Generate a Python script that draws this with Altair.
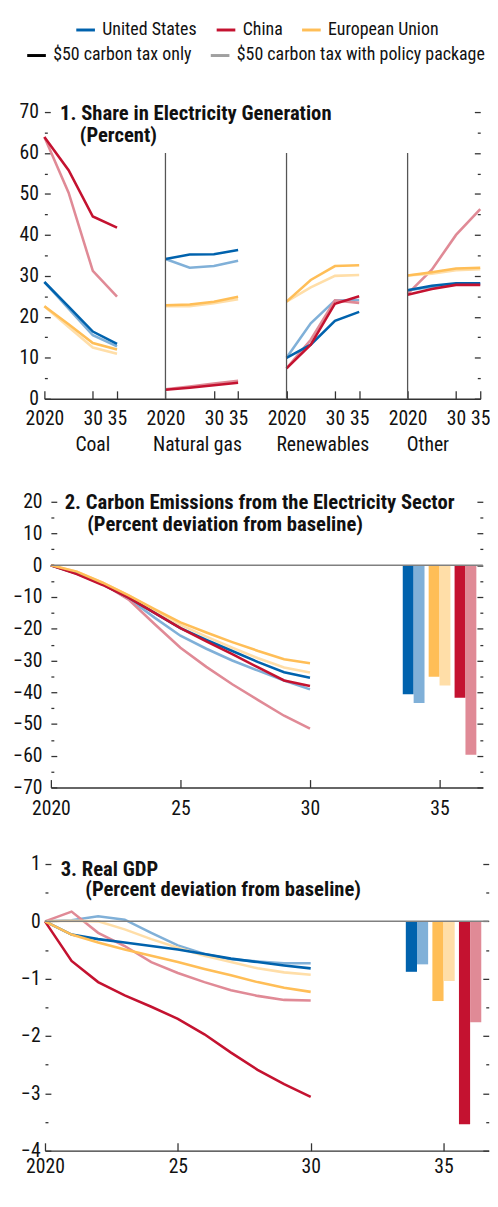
import altair as alt
import pandas as pd

FONT = "Liberation Sans Narrow, Arial Narrow, Roboto Condensed, DejaVu Sans Condensed, sans-serif"

# ---------------- data ----------------
COUNTRIES = ["United States", "China", "European Union"]
SCENARIOS = ["$50 carbon tax only", "$50 carbon tax with policy package"]
DARK = {"United States": "#0062AD", "China": "#C41230", "European Union": "#FFBE57"}
LIGHT = {"United States": "#80B0D8", "China": "#E08A96", "European Union": "#FFDEA8"}
SCEN_COLORS = ["#000000", "#A0A0A0"]

# Panel 1: share in electricity generation (percent), years 2020, 2025, 2030, 2035
SOURCES = ["Coal", "Natural gas", "Renewables", "Other"]
SHARE_YEARS = [2020, 2025, 2030, 2035]
share_us_tax = {"Coal": [28.5, 22.5, 16.4, 13.4], "Natural gas": [34.1, 35.2, 35.3, 36.3],
                "Renewables": [10.0, 13.2, 19.0, 21.2], "Other": [26.5, 27.6, 28.2, 28.2]}
share_us_pkg = {"Coal": [28.5, 22.0, 15.5, 12.8], "Natural gas": [34.1, 32.0, 32.4, 33.7],
                "Renewables": [10.0, 18.4, 24.0, 24.1], "Other": [26.5, 27.3, 28.0, 27.9]}
share_cn_tax = {"Coal": [63.9, 55.8, 44.5, 41.8], "Natural gas": [2.2, 2.7, 3.3, 3.9],
                "Renewables": [7.4, 13.2, 23.2, 25.0], "Other": [25.4, 26.8, 27.8, 27.8]}
share_cn_pkg = {"Coal": [63.9, 50.3, 31.2, 24.9], "Natural gas": [2.3, 3.0, 3.7, 4.4],
                "Renewables": [7.4, 14.4, 24.0, 23.4], "Other": [25.6, 31.5, 40.0, 46.3]}
share_eu_tax = {"Coal": [22.6, 18.2, 13.6, 12.0], "Natural gas": [22.8, 23.0, 23.7, 24.9],
                "Renewables": [23.7, 29.0, 32.4, 32.6], "Other": [30.1, 30.9, 31.8, 32.0]}
share_eu_pkg = {"Coal": [22.6, 17.5, 12.5, 11.0], "Natural gas": [22.6, 22.6, 23.3, 24.3],
                "Renewables": [23.7, 27.2, 30.0, 30.2], "Other": [30.1, 30.5, 31.4, 31.6]}

# Panel 2: carbon emissions from electricity (percent deviation from baseline)
YEARS = list(range(2020, 2031))
em_us_tax = [0, -2.6, -6.0, -10.2, -15.0, -19.8, -23.5, -27.0, -30.5, -33.7, -35.4]
em_us_pkg = [0, -2.4, -5.8, -10.5, -16.5, -22.2, -26.3, -30.0, -33.2, -36.3, -39.1]
em_cn_tax = [0, -2.8, -6.2, -10.2, -15.0, -19.8, -24.0, -28.0, -32.2, -36.3, -38.0]
em_cn_pkg = [0, -2.5, -5.8, -10.8, -18.5, -26.0, -32.0, -37.5, -42.5, -47.4, -51.5]
em_eu_tax = [0, -2.0, -5.5, -9.5, -13.8, -18.0, -21.2, -24.2, -27.0, -29.6, -30.9]
em_eu_pkg = [0, -2.0, -5.5, -9.5, -14.2, -18.8, -22.5, -26.0, -29.3, -32.2, -33.8]
em_2035_tax = {"United States": -40.6, "China": -41.7, "European Union": -35.1}
em_2035_pkg = {"United States": -43.4, "China": -59.7, "European Union": -37.9}

# Panel 3: real GDP (percent deviation from baseline)
gdp_us_tax = [0, -0.23, -0.31, -0.37, -0.43, -0.49, -0.57, -0.65, -0.71, -0.77, -0.82]
gdp_us_pkg = [0, 0.02, 0.09, 0.03, -0.20, -0.42, -0.57, -0.66, -0.70, -0.73, -0.73]
gdp_cn_tax = [0, -0.69, -1.06, -1.29, -1.49, -1.70, -1.97, -2.29, -2.59, -2.84, -3.06]
gdp_cn_pkg = [0, 0.17, -0.20, -0.43, -0.71, -0.90, -1.06, -1.20, -1.30, -1.37, -1.38]
gdp_eu_tax = [0, -0.23, -0.37, -0.49, -0.60, -0.71, -0.83, -0.94, -1.06, -1.16, -1.23]
gdp_eu_pkg = [0, 0.01, 0.00, -0.14, -0.31, -0.46, -0.60, -0.71, -0.82, -0.89, -0.93]
gdp_2035_tax = {"United States": -0.88, "China": -3.54, "European Union": -1.39}
gdp_2035_pkg = {"United States": -0.75, "China": -1.76, "European Union": -1.04}

BAR_YEAR = 2035

# ---------------- helpers ----------------
def skey(c, s):
    return f"{c} / {s}"

SERIES = [skey(c, s) for c in COUNTRIES for s in SCENARIOS]
SERIES_RANGE = [DARK[c] if s == SCENARIOS[0] else LIGHT[c] for c in COUNTRIES for s in SCENARIOS]
COLOR = alt.Color("series:N", scale=alt.Scale(domain=SERIES, range=SERIES_RANGE), legend=None)

TICK = "#333333"
LABEL_SIZE = 20
TITLE_SIZE = 21
LW = 2.6


def y_layer(df, xenc, yfield, yscale, values, orient, labels=False, pad=0, tick=0):
    kw = dict(orient=orient, values=values, title=None, grid=False, domain=False,
              labelOverlap=False, minExtent=0)
    if labels:
        kw.update(labels=True, ticks=False, tickSize=0, labelPadding=pad,
                  labelFontSize=LABEL_SIZE, labelColor="#111111")
    else:
        kw.update(labels=False, ticks=True, tickSize=tick, offset=-tick,
                  tickColor=TICK, tickWidth=1.3)
    return alt.Chart(df).mark_point(opacity=0).encode(
        x=xenc, y=alt.Y(yfield, scale=yscale, axis=alt.Axis(**kw)))


def x_label_axis(values, label_expr, pad):
    return alt.Axis(orient="bottom", values=values, labelExpr=label_expr, title=None,
                    grid=False, domain=True, domainColor=TICK, domainWidth=1.4,
                    ticks=False, tickSize=0, labelOverlap=False, labelFlush=False,
                    labelPadding=pad, labelFontSize=LABEL_SIZE, labelColor="#111111",
                    minExtent=0)


def x_tick_axis(values):
    return alt.Axis(orient="bottom", values=values, title=None, grid=False, domain=False,
                    labels=False, ticks=True, tickSize=8, offset=-8,
                    tickColor=TICK, tickWidth=1.3, minExtent=0)


def title_layers(line1, line2, x1, y1, x2, y2):
    d = pd.DataFrame({"k": [0]})
    t1 = alt.Chart(d).mark_text(text=line1, align="left", baseline="alphabetic",
                                fontWeight="bold", fontSize=TITLE_SIZE, color="#111111").encode(
        x=alt.value(x1), y=alt.value(y1))
    t2 = alt.Chart(d).mark_text(text=line2, align="left", baseline="alphabetic",
                                fontWeight="bold", fontSize=TITLE_SIZE, color="#111111").encode(
        x=alt.value(x2), y=alt.value(y2))
    return [t1, t2]


# ---------------- panel 1 ----------------
GAP = 25  # x-units between the starts of neighbouring sub-panels
W1, H1 = 444, 292
share_tables = {
    ("United States", SCENARIOS[0]): share_us_tax, ("United States", SCENARIOS[1]): share_us_pkg,
    ("China", SCENARIOS[0]): share_cn_tax, ("China", SCENARIOS[1]): share_cn_pkg,
    ("European Union", SCENARIOS[0]): share_eu_tax, ("European Union", SCENARIOS[1]): share_eu_pkg,
}
rows = []
for (c, s), tab in share_tables.items():
    for i, src in enumerate(SOURCES):
        for yr, v in zip(SHARE_YEARS, tab[src]):
            rows.append({"series": skey(c, s), "scenario": s, "source": src,
                         "xpos": yr + i * GAP, "value": v})
df1 = pd.DataFrame(rows)

x1s = alt.Scale(domain=[2020, 2020 + 3 * GAP + 15], nice=False, zero=False)
y1s = alt.Scale(domain=[0, 70], nice=False, zero=False)
X1 = alt.X("xpos:Q", scale=x1s, axis=None)

x1_ticks = [2020 + i * GAP + d for i in range(4) for d in (0, 10, 15)]
x1_expr = ("(datum.value - 2020) % 25 == 0 ? '2020' : "
           "((datum.value - 2020) % 25 == 10 ? '30' : '35')")
major1 = list(range(0, 71, 10))
minor1 = list(range(5, 70, 10))

p1_light = alt.Chart(df1[df1.scenario == SCENARIOS[1]]).mark_line(strokeWidth=LW).encode(
    x=alt.X("xpos:Q", scale=x1s, axis=x_label_axis(x1_ticks, x1_expr, 10)),
    y=alt.Y("value:Q", scale=y1s, axis=None), color=COLOR, detail="source:N")
p1_dark = alt.Chart(df1[df1.scenario == SCENARIOS[0]]).mark_line(strokeWidth=LW).encode(
    x=alt.X("xpos:Q", scale=x1s, axis=x_tick_axis(x1_ticks)),
    y=alt.Y("value:Q", scale=y1s, axis=None), color=COLOR, detail="source:N")

sep_df = pd.DataFrame({"xsep": [2035 + GAP / 2 - 2.5 + i * GAP for i in range(3)],
                       "lo": [0] * 3, "hi": [60] * 3})
p1_sep = alt.Chart(sep_df).mark_rule(color="#555555", strokeWidth=1.3).encode(
    x=alt.X("xsep:Q", scale=x1s, axis=None),
    y=alt.Y("lo:Q", scale=y1s, axis=None), y2="hi:Q")

LABEL_SHIFT = [10, 6.6, 7.5, 4.2]
cat_df = pd.DataFrame({"source": SOURCES,
                       "xc": [2020 + i * GAP + LABEL_SHIFT[i] for i in range(4)]})
p1_cat = alt.Chart(cat_df).mark_text(fontSize=LABEL_SIZE, baseline="alphabetic",
                                     color="#111111").encode(
    x=alt.X("xc:Q", scale=x1s, axis=None), y=alt.value(H1 + 53), text="source:N")

leg_common = dict(orient="none", direction="horizontal", title=None, symbolType="stroke",
                  symbolSize=361, symbolStrokeWidth=3, labelFontSize=18.2, columnPadding=13,
                  labelOffset=6, labelLimit=600, labelColor="#111111")
leg_country = alt.Chart(pd.DataFrame({"country": COUNTRIES})).mark_line().encode(
    color=alt.Color("country:N",
                    scale=alt.Scale(domain=COUNTRIES, range=[DARK[c] for c in COUNTRIES]),
                    legend=alt.Legend(legendX=31, legendY=-95, **leg_common)))
leg_scen = alt.Chart(pd.DataFrame({"scenario": SCENARIOS})).mark_line().encode(
    stroke=alt.Stroke("scenario:N", scale=alt.Scale(domain=SCENARIOS, range=SCEN_COLORS),
                      legend=alt.Legend(legendX=-19, legendY=-69, **leg_common)))

panel1 = alt.layer(
    p1_light, p1_dark, p1_sep, p1_cat,
    y_layer(df1, X1, "value:Q", y1s, major1, "left", labels=True, pad=6),
    y_layer(df1, X1, "value:Q", y1s, major1, "left", tick=6),
    y_layer(df1, X1, "value:Q", y1s, minor1, "left", tick=3),
    y_layer(df1, X1, "value:Q", y1s, major1, "right", tick=6),
    y_layer(df1, X1, "value:Q", y1s, minor1, "right", tick=3),
    *title_layers("1. Share in Electricity Generation", "(Percent)", 16, 8, 36, 31),
    leg_country, leg_scen,
).resolve_axis(x="independent", y="independent").resolve_scale(
    color="independent", stroke="independent"
).properties(width=W1, height=H1)


# ---------------- panels 2 and 3 ----------------
def time_panel(series_lists, bars_tax, bars_pkg, ydom, major, minor, width, height,
               xmax, t1, t2, tpos, xpad, ypad):
    rows = []
    for (c, s), vals in series_lists.items():
        for yr, v in zip(YEARS, vals):
            rows.append({"series": skey(c, s), "scenario": s, "year": yr, "value": v})
    df = pd.DataFrame(rows)
    brows = []
    offsets = {"United States": -1, "European Union": 0, "China": 1}
    bw = 0.42
    for c in COUNTRIES:
        center = BAR_YEAR + offsets[c]
        brows.append({"series": skey(c, SCENARIOS[0]), "x0": center - bw, "x1": center,
                      "value": bars_tax[c], "base": 0})
        brows.append({"series": skey(c, SCENARIOS[1]), "x0": center, "x1": center + bw,
                      "value": bars_pkg[c], "base": 0})
    bdf = pd.DataFrame(brows)

    xs = alt.Scale(domain=[2020, xmax], nice=False, zero=False)
    ys = alt.Scale(domain=ydom, nice=False, zero=False)
    X = alt.X("year:Q", scale=xs, axis=None)
    xt = [2020, 2025, 2030, 2035]
    xexpr = "datum.value == 2020 ? '2020' : format(datum.value % 100, 'd')"

    light = alt.Chart(df[df.scenario == SCENARIOS[1]]).mark_line(strokeWidth=LW).encode(
        x=alt.X("year:Q", scale=xs, axis=x_label_axis(xt, xexpr, xpad)),
        y=alt.Y("value:Q", scale=ys, axis=None), color=COLOR)
    dark = alt.Chart(df[df.scenario == SCENARIOS[0]]).mark_line(strokeWidth=LW).encode(
        x=alt.X("year:Q", scale=xs, axis=x_tick_axis(xt)),
        y=alt.Y("value:Q", scale=ys, axis=None), color=COLOR)
    bars = alt.Chart(bdf).mark_bar().encode(
        x=alt.X("x0:Q", scale=xs, axis=None), x2="x1:Q",
        y=alt.Y("value:Q", scale=ys, axis=None), y2="base:Q", color=COLOR)
    zero = alt.Chart(pd.DataFrame({"z": [0]})).mark_rule(color="#808080", strokeWidth=1.5).encode(
        y=alt.Y("z:Q", scale=ys, axis=None))
    return alt.layer(
        light, dark, bars, zero,
        y_layer(df, X, "value:Q", ys, major, "left", labels=True, pad=ypad),
        y_layer(df, X, "value:Q", ys, major, "left", tick=6),
        y_layer(df, X, "value:Q", ys, minor, "left", tick=3),
        y_layer(df, X, "value:Q", ys, major, "right", tick=6),
        y_layer(df, X, "value:Q", ys, minor, "right", tick=3),
        *title_layers(t1, t2, *tpos),
    ).resolve_axis(x="independent", y="independent").properties(width=width, height=height)


panel2 = time_panel(
    {("United States", SCENARIOS[0]): em_us_tax, ("United States", SCENARIOS[1]): em_us_pkg,
     ("China", SCENARIOS[0]): em_cn_tax, ("China", SCENARIOS[1]): em_cn_pkg,
     ("European Union", SCENARIOS[0]): em_eu_tax, ("European Union", SCENARIOS[1]): em_eu_pkg},
    em_2035_tax, em_2035_pkg, [-70, 20], list(range(-70, 21, 10)), list(range(-65, 20, 10)),
    440, 291, 2036.67, "2. Carbon Emissions from the Electricity Sector",
    "(Percent deviation from baseline)", (14, 7, 37, 30), 12, 9)

panel3 = time_panel(
    {("United States", SCENARIOS[0]): gdp_us_tax, ("United States", SCENARIOS[1]): gdp_us_pkg,
     ("China", SCENARIOS[0]): gdp_cn_tax, ("China", SCENARIOS[1]): gdp_cn_pkg,
     ("European Union", SCENARIOS[0]): gdp_eu_tax, ("European Union", SCENARIOS[1]): gdp_eu_pkg},
    gdp_2035_tax, gdp_2035_pkg, [-4, 1], [-4, -3, -2, -1, 0, 1],
    [-3.5, -2.5, -1.5, -0.5, 0.5], 452, 292, 2036.7, "3. Real GDP",
    "(Percent deviation from baseline)", (16, 12, 41, 33), 6, 5)

lower = alt.vconcat(panel2, panel3, spacing=36, center=True)
chart = alt.vconcat(panel1, lower, spacing=38, center=True).resolve_scale(
    color="independent", stroke="independent"
).properties(
    padding={"left": 4, "top": 0, "right": 0, "bottom": 0}, background="white"
).configure(font=FONT).configure_view(stroke=None)

chart.save("out.html", embed_options={"renderer": "svg", "actions": False})
